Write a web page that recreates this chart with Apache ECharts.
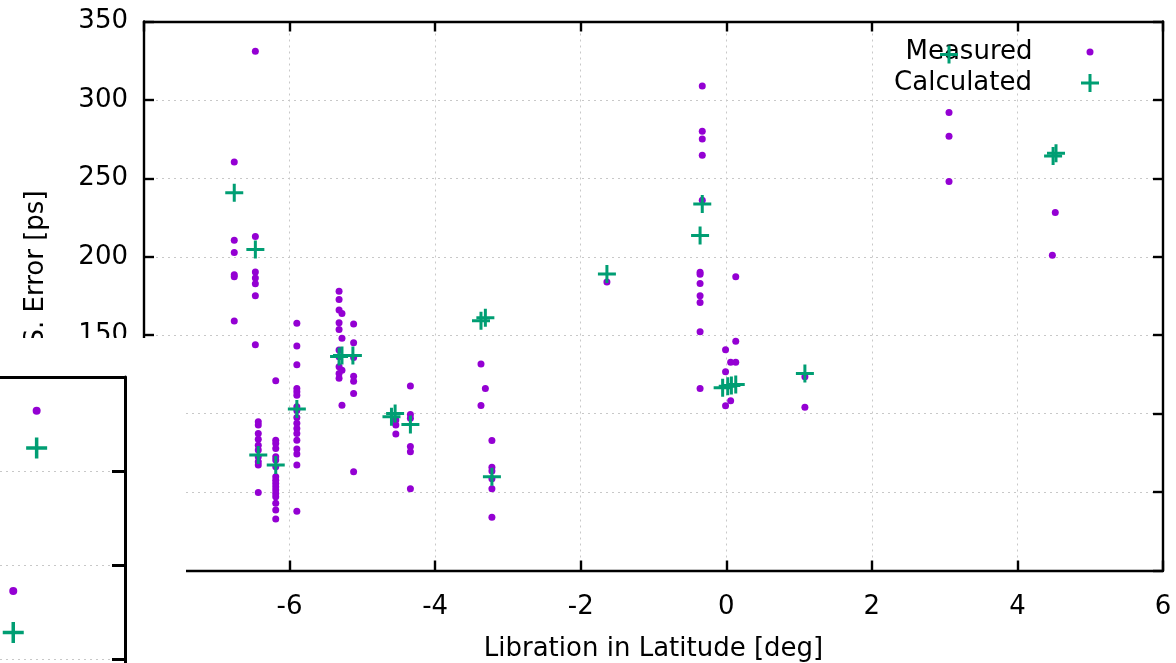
<!DOCTYPE html>
<html>
<head>
<meta charset="utf-8">
<script src="https://cdn.jsdelivr.net/npm/echarts@6/dist/echarts.min.js"></script>
<style>
html, body { margin: 0; padding: 0; background: #fff; }
#main { width: 1176px; height: 663px; }
</style>
</head>
<body>
<div id="main"></div>
<script>
// measured errors, [latitude deg, error ps]
var measured = [
    [-6.76, 260.5], [-6.76, 210.6], [-6.76, 202.8], [-6.76, 187.2], [-6.76, 188.5], [-6.76, 159.0],
    [-6.47, 331.0], [-6.47, 213.0], [-6.47, 190.3], [-6.47, 186.5], [-6.47, 182.8], [-6.47, 175.1], [-6.47, 143.9],
    [-6.43, 94.8], [-6.43, 92.7], [-6.43, 87.4], [-6.43, 83.6], [-6.43, 79.9], [-6.43, 76.8], [-6.43, 72.5],
    [-6.43, 69.3], [-6.43, 67.2], [-6.43, 49.8],
    [-6.19, 120.9], [-6.19, 83.1], [-6.19, 81.0], [-6.19, 77.8], [-6.19, 72.5], [-6.19, 70.4], [-6.19, 66.1],
    [-6.19, 59.7], [-6.19, 57.6], [-6.19, 55.5], [-6.19, 53.4], [-6.19, 51.3], [-6.19, 49.1], [-6.19, 47.0],
    [-6.19, 42.8], [-6.19, 38.5], [-6.19, 32.8],
    [-5.90, 157.7], [-5.90, 143.2], [-5.90, 131.1], [-5.90, 116.1], [-5.90, 113.9], [-5.90, 111.8], [-5.90, 104.4],
    [-5.90, 102.0], [-5.90, 97.6], [-5.90, 93.8], [-5.90, 90.6], [-5.90, 87.4], [-5.90, 83.1], [-5.90, 77.4],
    [-5.90, 74.2], [-5.90, 67.2], [-5.90, 37.7],
    [-5.32, 178.1], [-5.32, 172.8], [-5.32, 166.0], [-5.32, 157.9], [-5.32, 153.7], [-5.32, 140.5], [-5.32, 136.2],
    [-5.32, 129.9], [-5.32, 125.6], [-5.32, 122.5],
    [-5.28, 163.9], [-5.28, 148.0], [-5.28, 127.7], [-5.28, 105.4],
    [-5.12, 157.1], [-5.12, 145.2], [-5.12, 135.8], [-5.12, 123.9], [-5.12, 120.7], [-5.12, 112.9], [-5.12, 62.9],
    [-4.54, 95.9], [-4.54, 92.7], [-4.54, 87.0],
    [-4.34, 117.7], [-4.34, 99.4], [-4.34, 97.0], [-4.34, 79.1], [-4.34, 75.7], [-4.34, 52.1],
    [-3.37, 131.6], [-3.37, 105.2], [-3.31, 116.1],
    [-3.22, 82.8], [-3.22, 65.9], [-3.22, 63.5], [-3.22, 58.5], [-3.22, 52.1], [-3.22, 34.0],
    [-1.64, 184.0],
    [-0.33, 308.9], [-0.33, 280.1], [-0.33, 275.1], [-0.33, 264.8], [-0.33, 236.1],
    [-0.36, 190.2], [-0.36, 188.9], [-0.36, 182.9], [-0.36, 175.1], [-0.36, 170.9], [-0.36, 152.2], [-0.36, 116.1],
    [-0.01, 140.8], [-0.01, 126.7], [-0.01, 105.1],
    [0.06, 132.8], [0.06, 108.2],
    [0.13, 146.2], [0.13, 132.8], [0.13, 187.2],
    [1.08, 123.5], [1.08, 104.0],
    [3.06, 292.0], [3.06, 276.9], [3.06, 248.0],
    [4.52, 228.3], [4.48, 200.9]
];

// calculated errors
var calculated = [
    [-6.76, 240.8], [-6.47, 204.7], [-6.43, 73.6], [-6.19, 67.2], [-5.90, 102.9],
    [-5.32, 136.4], [-5.28, 137.0], [-5.13, 137.0],
    [-4.60, 98.0], [-4.55, 100.1], [-4.34, 93.1],
    [-3.37, 159.2], [-3.31, 161.1], [-3.22, 59.7],
    [-1.64, 189.0],
    [-0.33, 233.6], [-0.36, 213.6],
    [-0.05, 116.5], [0.02, 117.5], [0.07, 118.0], [0.13, 118.5],
    [1.08, 125.6], [3.06, 329.0], [4.49, 264.2], [4.53, 266.0]
];

// the enlarged copy peeking out at the lower left
var insetMeasured = [[4.98, 332.1], [4.71, 236.2]];
var insetCalculated = [[4.98, 312.2], [4.71, 214.1]];

var latRange = [-8, 6];
var errRange = [0, 350];
var insetLatRange = [4.557, 6];
var insetErrRange = [150, 350];

var PLUS = 'path://M-1.5,-9H1.5V-1.5H9V1.5H1.5V9H-1.5V1.5H-9V-1.5H-1.5Z';
var FONT = 'DejaVu Sans';
var grey = { color: '#c8c8c8', type: [2, 4], width: 1 };

function frameAxis(extra) {
    var a = {
        type: 'value',
        axisLine: { show: true, onZero: false, lineStyle: { color: '#000', width: 2.4 } },
        axisTick: { show: true, inside: true, length: 10, lineStyle: { color: '#000', width: 2.4 } },
        axisLabel: { show: false },
        splitLine: { show: false }
    };
    for (var k in extra) a[k] = extra[k];
    return a;
}

var myChart = echarts.init(document.getElementById('main'));

var option = {
    animation: false,
    backgroundColor: '#fff',
    textStyle: { fontFamily: FONT },
    grid: [
        { left: 144, right: 13, top: 21.5, bottom: 92.5, outerBoundsMode: 'none' },
        { left: 0, right: 1051, top: 377, bottom: -90, outerBoundsMode: 'none' }
    ],
    xAxis: [
        frameAxis({
            gridIndex: 0, position: 'bottom', min: latRange[0], max: latRange[1], interval: 2,
            axisLabel: { show: true, color: '#000', fontSize: 26, fontFamily: FONT, margin: 24 },
            splitLine: { show: true, lineStyle: grey },
            name: 'Libration in Latitude [deg]', nameLocation: 'middle', nameGap: 66,
            nameTextStyle: { color: '#000', fontSize: 26, fontFamily: FONT }
        }),
        frameAxis({ gridIndex: 0, position: 'top', min: latRange[0], max: latRange[1], interval: 2 }),
        frameAxis({
            gridIndex: 1, position: 'top', min: insetLatRange[0], max: insetLatRange[1], z: 50,
            axisLine: { show: true, onZero: false, lineStyle: { color: '#000', width: 3 } },
            axisTick: { show: false }
        })
    ],
    yAxis: [
        frameAxis({
            gridIndex: 0, position: 'left', min: errRange[0], max: errRange[1], interval: 50,
            axisLabel: { show: true, color: '#000', fontSize: 26, fontFamily: FONT, margin: 16, padding: [4, 0, 0, 0] },
            splitLine: { show: true, lineStyle: grey },
            name: 'R.M.S. Error [ps]', nameLocation: 'middle', nameGap: 95,
            nameTextStyle: { color: '#000', fontSize: 26, fontFamily: FONT }
        }),
        frameAxis({ gridIndex: 0, position: 'right', min: errRange[0], max: errRange[1], interval: 50 }),
        frameAxis({
            gridIndex: 1, position: 'right', min: insetErrRange[0], max: insetErrRange[1], interval: 50, z: 50,
            axisLine: { show: true, onZero: false, lineStyle: { color: '#000', width: 3 } },
            axisTick: { show: true, inside: true, length: 13, lineStyle: { color: '#000', width: 3 } },
            splitLine: { show: true, lineStyle: grey }
        })
    ],
    legend: [
        {
            data: [{ name: 'Measured', icon: 'circle' }],
            right: 82.5, top: 37, padding: 0, align: 'right', selectedMode: false,
            itemWidth: 7, itemHeight: 7,
            textStyle: { color: '#000', fontSize: 26, fontFamily: FONT, lineHeight: 30, padding: [0, 49, 0, 0] }
        },
        {
            data: [{ name: 'Calculated', icon: PLUS }],
            right: 77, top: 68, padding: 0, align: 'right', selectedMode: false,
            itemWidth: 18, itemHeight: 18,
            textStyle: { color: '#000', fontSize: 26, fontFamily: FONT, lineHeight: 30, padding: [0, 44, 0, 0] }
        }
    ],
    graphic: {
        elements: [{
            type: 'rect', z: 40,
            shape: { x: 0, y: 338, width: 186, height: 325 },
            style: { fill: '#fff' }
        }]
    },
    series: [
        {
            name: 'Measured', type: 'scatter', xAxisIndex: 0, yAxisIndex: 0,
            symbol: 'circle', symbolSize: 7, itemStyle: { color: '#9400d3', opacity: 1 },
            data: measured
        },
        {
            name: 'Calculated', type: 'scatter', xAxisIndex: 0, yAxisIndex: 0, z: 5,
            symbol: PLUS, symbolSize: 18, itemStyle: { color: '#009e73', opacity: 1 },
            data: calculated
        },
        {
            name: 'Measured', type: 'scatter', xAxisIndex: 2, yAxisIndex: 2, z: 50,
            symbol: 'circle', symbolSize: 8, itemStyle: { color: '#9400d3', opacity: 1 },
            data: insetMeasured
        },
        {
            name: 'Calculated', type: 'scatter', xAxisIndex: 2, yAxisIndex: 2, z: 51,
            symbol: PLUS, symbolSize: 21, itemStyle: { color: '#009e73', opacity: 1 },
            data: insetCalculated
        }
    ]
};

myChart.setOption(option);
</script>
</body>
</html>
